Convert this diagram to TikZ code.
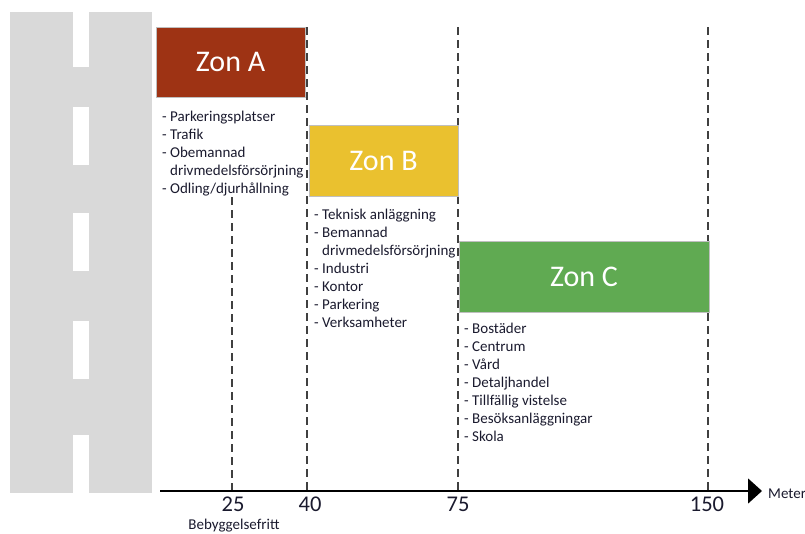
\documentclass[tikz,border=0pt]{standalone}
\usepackage{fontspec}
\setmainfont{Carlito}
\usetikzlibrary{arrows.meta}
\definecolor{roadgray}{HTML}{D9D9D9}
\definecolor{zonea}{HTML}{9E3314}
\definecolor{zoneb}{HTML}{EAC12F}
\definecolor{zonec}{HTML}{60AA52}
\definecolor{txt}{HTML}{1A1A2E}
\definecolor{dashgray}{HTML}{404040}
\tikzset{
  zonebox/.style={draw=black!25, line width=0.6pt, text=white, font=\fontsize{30}{33}\selectfont},
  listline/.style={anchor=base west, inner sep=0pt, text=txt, font=\fontsize{15}{17}\selectfont},
  guide/.style={draw=dashgray, line width=1.1pt, dash pattern=on 8pt off 5pt},
  axislbl/.style={inner sep=0pt, text=txt, font=\fontsize{22.5}{25}\selectfont},
  smalllbl/.style={inner sep=0pt, text=txt, font=\fontsize{15}{17}\selectfont},
  roaddash/.style={fill=white, draw=none}
}
\begin{document}
\begin{tikzpicture}[x=1pt,y=-1pt]
\useasboundingbox (0,0) rectangle (805,533);
% road
\fill[roadgray] (10,12) rectangle (152,493);
\foreach \a/\b [count=\i] in {12/67,107/165,213/271,321/379,435/493}
  \fill[white] (73,\a) rectangle (89,\b);
% guide lines
\coordinate (g25t) at (232,197); \coordinate (g25b) at (232,491);
\coordinate (g40t) at (307,27);  \coordinate (g40b) at (307,491);
\coordinate (g75t) at (458,27);  \coordinate (g75b) at (458,491);
\coordinate (g150t) at (708,27); \coordinate (g150b) at (708,491);
\draw[guide] (g25t) -- (g25b);
\draw[guide] (g40t) -- (g40b);
\draw[guide] (g75t) -- (g75b);
\draw[guide] (g150t) -- (g150b);
% zones
\node[zonebox, fill=zonea, minimum width=149pt, minimum height=70pt] (zA) at (230.5,62) {Zon A};
\node[zonebox, fill=zoneb, minimum width=149pt, minimum height=71pt] (zB) at (383.5,160.5) {Zon B};
\node[zonebox, fill=zonec, minimum width=250pt, minimum height=71pt] (zC) at (584,276.5) {Zon C};
% lists
\foreach \t [count=\i] in {- Parkeringsplatser,- Trafik,- Obemannad,\phantom{- }drivmedelsförsörjning,- Odling/djurhållning}
  \node[listline] (la\i) at (162,{103+18*\i}) {\t};
\foreach \t [count=\i] in {- Teknisk anläggning,- Bemannad,\phantom{- }drivmedelsförsörjning,- Industri,- Kontor,- Parkering,- Verksamheter}
  \node[listline] (lb\i) at (314,{201+18*\i}) {\t};
\foreach \t [count=\i] in {- Bostäder,- Centrum,- Vård,- Detaljhandel,- Tillfällig vistelse,- Besöksanläggningar,- Skola}
  \node[listline] (lc\i) at (464,{315+18*\i}) {\t};
% axis
\coordinate (ax0) at (160,491);
\coordinate (ax1) at (762,491);
\draw[line width=1.4pt, -{Triangle[length=14pt,width=25pt]}] (ax0) -- (ax1);
\node[smalllbl, anchor=west] (meter) at (768,494) {Meter};
\node[axislbl] (n25) at (233,504) {25};
\node[axislbl] (n40) at (310,504) {40};
\node[axislbl] (n75) at (458,504) {75};
\node[axislbl] (n150) at (707,504) {150};
\node[smalllbl] (beb) at (234,526) {Bebyggelsefritt};
\end{tikzpicture}
\end{document}
